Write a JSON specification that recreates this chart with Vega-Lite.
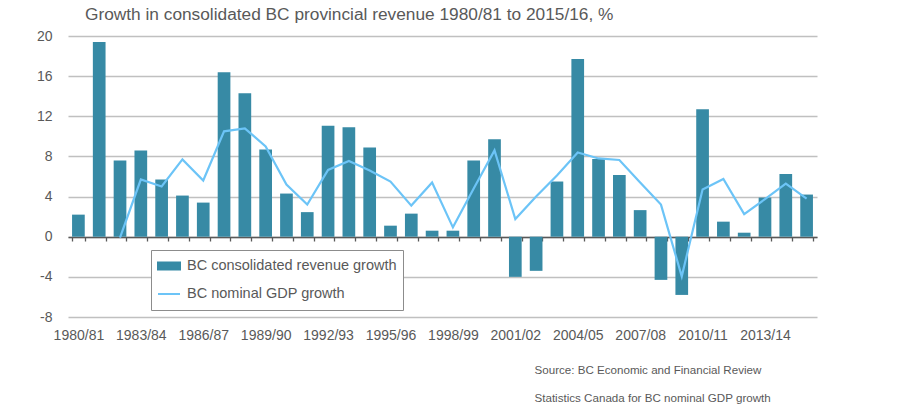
{
  "$schema": "https://vega.github.io/schema/vega-lite/v6.json",
  "width": 749,
  "height": 281,
  "autosize": {"type": "none"},
  "padding": {"left": 68, "top": 36, "right": 83, "bottom": 103},
  "background": "white",
  "config": {
    "font": "Liberation Sans",
    "view": {"stroke": null}
  },
  "title": {
    "text": "Growth in consolidated BC provincial revenue 1980/81 to 2015/16, %",
    "anchor": "start",
    "frame": "group",
    "dx": 17,
    "offset": 6,
    "fontSize": 17.3,
    "fontWeight": "normal",
    "color": "#595959",
    "font": "Liberation Sans"
  },
  "data": {
    "values": [
      {"year": "1980/81", "rev": 2.2, "gdp": null},
      {"year": "1981/82", "rev": 19.4, "gdp": null},
      {"year": "1982/83", "rev": 7.6, "gdp": -0.1},
      {"year": "1983/84", "rev": 8.6, "gdp": 5.7},
      {"year": "1984/85", "rev": 5.7, "gdp": 5.0},
      {"year": "1985/86", "rev": 4.1, "gdp": 7.7},
      {"year": "1986/87", "rev": 3.4, "gdp": 5.6},
      {"year": "1987/88", "rev": 16.4, "gdp": 10.5},
      {"year": "1988/89", "rev": 14.3, "gdp": 10.8},
      {"year": "1989/90", "rev": 8.7, "gdp": 9.0},
      {"year": "1990/91", "rev": 4.3, "gdp": 5.2},
      {"year": "1991/92", "rev": 2.45, "gdp": 3.2},
      {"year": "1992/93", "rev": 11.05, "gdp": 6.65},
      {"year": "1993/94", "rev": 10.9, "gdp": 7.55},
      {"year": "1994/95", "rev": 8.9, "gdp": 6.6},
      {"year": "1995/96", "rev": 1.1, "gdp": 5.5},
      {"year": "1996/97", "rev": 2.3, "gdp": 3.1},
      {"year": "1997/98", "rev": 0.6, "gdp": 5.4},
      {"year": "1998/99", "rev": 0.6, "gdp": 0.93},
      {"year": "1999/00", "rev": 7.6, "gdp": 4.8},
      {"year": "2000/01", "rev": 9.7, "gdp": 8.6},
      {"year": "2001/02", "rev": -4.0, "gdp": 1.76},
      {"year": "2002/03", "rev": -3.4, "gdp": 4.0},
      {"year": "2003/04", "rev": 5.5, "gdp": 6.1},
      {"year": "2004/05", "rev": 17.7, "gdp": 8.4},
      {"year": "2005/06", "rev": 7.75, "gdp": 7.8},
      {"year": "2006/07", "rev": 6.15, "gdp": 7.65},
      {"year": "2007/08", "rev": 2.65, "gdp": 5.4},
      {"year": "2008/09", "rev": -4.3, "gdp": 3.2},
      {"year": "2009/10", "rev": -5.8, "gdp": -3.95},
      {"year": "2010/11", "rev": 12.7, "gdp": 4.7},
      {"year": "2011/12", "rev": 1.5, "gdp": 5.75},
      {"year": "2012/13", "rev": 0.4, "gdp": 2.26},
      {"year": "2013/14", "rev": 3.9, "gdp": 3.75},
      {"year": "2014/15", "rev": 6.25, "gdp": 5.28},
      {"year": "2015/16", "rev": 4.2, "gdp": 3.8}
    ]
  },
  "encoding": {
    "x": {
      "field": "year",
      "type": "ordinal",
      "sort": null,
      "scale": {"paddingInner": 0.39, "paddingOuter": 0.195},
      "axis": {
        "orient": "bottom",
        "offset": -80,
        "tickBand": "extent",
        "tickSize": 4,
        "tickColor": "#595959",
        "tickWidth": 1.3,
        "domainColor": "#595959",
        "domainWidth": 1.3,
        "labelAngle": 0,
        "labelPadding": 87,
        "labelOverlap": false,
        "labelFontSize": 14,
        "labelColor": "#595959",
        "labelExpr": "indexof(['1980/81','1983/84','1986/87','1989/90','1992/93','1995/96','1998/99','2001/02','2004/05','2007/08','2010/11','2013/14'], datum.label) >= 0 ? datum.label : ''",
        "title": ["Source:  BC Economic and Financial Review", "Statistics  Canada  for BC nominal  GDP growth"],
        "titleX": 466,
        "titleY": 133,
        "titleAlign": "left",
        "titleAnchor": null,
        "titleBaseline": "middle",
        "titleLineHeight": 28,
        "titleFontSize": 11.6,
        "titleFontWeight": "normal",
        "titleColor": "#595959"
      }
    }
  },
  "layer": [
    {
      "mark": {"type": "bar"},
      "encoding": {
        "y": {
          "field": "rev",
          "type": "quantitative",
          "scale": {"domain": [-8, 20], "nice": false, "zero": false},
          "axis": {
            "values": [-8, -4, 0, 4, 8, 12, 16, 20],
            "labelExpr": "toString(datum.value)",
            "grid": true,
            "gridColor": "#c0c0c0",
            "gridWidth": 1.5,
            "domain": false,
            "ticks": false,
            "labelPadding": 16,
            "labelFontSize": 14,
            "labelColor": "#595959",
            "title": null
          }
        },
        "color": {
          "datum": "BC consolidated revenue growth",
          "scale": {
            "domain": ["BC consolidated revenue growth", "BC nominal GDP growth"],
            "range": ["#378aa5", "#6cc4f7"]
          },
          "legend": {
            "title": null,
            "orient": "none",
            "legendX": 83,
            "legendY": 214,
            "direction": "vertical",
            "fillColor": "white",
            "strokeColor": "#8c8c8c",
            "padding": 6,
            "rowPadding": 8,
            "clipHeight": 20,
            "symbolSize": 484,
            "labelOffset": 6,
            "labelFontSize": 14.5,
            "labelColor": "#595959",
            "labelLimit": 400,
            "encode": {
              "symbols": {
                "update": {
                  "shape": {"signal": "datum.value === 'BC nominal GDP growth' ? 'stroke' : 'M-1,-0.32H1V0.32H-1Z'"},
                  "fill": {"signal": "datum.value === 'BC nominal GDP growth' ? 'transparent' : '#378aa5'"},
                  "stroke": {"signal": "datum.value === 'BC nominal GDP growth' ? '#6cc4f7' : 'transparent'"},
                  "strokeWidth": {"value": 2},
                  "opacity": {"value": 1}
                }
              }
            }
          }
        }
      }
    },
    {
      "mark": {"type": "line", "strokeWidth": 2.2, "strokeJoin": "miter"},
      "encoding": {
        "y": {"field": "gdp", "type": "quantitative"},
        "color": {"datum": "BC nominal GDP growth"}
      }
    }
  ]
}
